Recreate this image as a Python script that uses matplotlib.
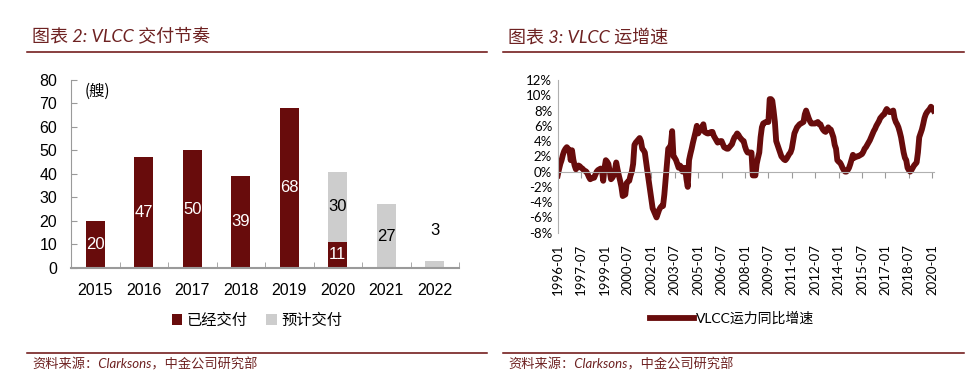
import matplotlib
matplotlib.use("Agg")
from matplotlib import pyplot as plt
from matplotlib.lines import Line2D

plt.rcParams['font.family'] = ['Liberation Sans', 'Noto Sans CJK SC', 'DejaVu Sans']

RED = '#680c0c'
TXT_RED = '#6e2222'
GRAY_BAR = '#cdcdcd'
AXIS_GRAY = '#9a9a9a'

# left chart: VLCC deliveries
years = ['2015', '2016', '2017', '2018', '2019', '2020', '2021', '2022']
delivered = [20, 47, 50, 39, 68, 11, 0, 0]
expected = [0, 0, 0, 0, 0, 30, 27, 3]

# right chart: VLCC fleet growth yoy (%), monthly from 1996-01
growth = [
    -0.5, 0.3, 1.0, 1.5, 2.2, 2.7, 3.0, 3.2, 3.0, 2.8, 1.5, 2.8,      # 1996
    1.6, 0.8, 0.3, 0.6, 0.8, 0.7, 0.5, 0.4, 0.2, 0.1, 0.0, -0.3,      # 1997
    -0.7, -1.0, -0.9, -0.8, -0.8, -0.4, 0.0, 0.2, 0.3, 0.4, 0.2, -1.2,  # 1998
    0.5, 1.5, 1.3, 1.0, 0.0, -1.0, -0.8, -0.5, 0.2, 1.2, 0.3, -0.5,   # 1999
    -1.2, -2.0, -3.2, -3.1, -3.0, -1.5, -1.3, -1.2, -0.5, 0.0, 1.0, 3.5,  # 2000
    3.8, 4.0, 4.2, 4.4, 4.0, 3.0, 2.8, 2.5, 1.2, 0.0, -1.2, -2.5,     # 2001
    -3.5, -4.8, -5.2, -5.6, -6.0, -5.5, -5.0, -4.7, -4.5, -4.5, -3.0, -1.0,  # 2002
    1.0, 3.0, 3.2, 3.5, 5.3, 2.0, 1.8, 1.5, 1.0, 0.5, 0.8, 0.6,       # 2003
    0.0, 0.2, 0.5, -1.0, -2.0, 1.5, 2.3, 3.0, 3.8, 4.5, 5.2, 6.0,     # 2004
    5.0, 5.3, 5.5, 5.8, 6.2, 5.2, 5.1, 5.0, 5.0, 5.1, 5.2, 5.2,       # 2005
    4.7, 4.4, 4.1, 3.8, 3.9, 4.0, 4.0, 3.6, 3.2, 3.1, 3.0, 3.0,       # 2006
    3.2, 3.4, 3.6, 4.1, 4.5, 4.7, 5.0, 4.8, 4.5, 4.3, 4.1, 4.0,       # 2007
    3.3, 2.8, 2.5, 2.5, 2.5, 2.5, -0.5, -0.5, -0.5, 1.0, 1.8, 2.5,    # 2008
    4.5, 5.8, 6.3, 6.4, 6.5, 6.5, 6.5, 9.5, 9.5, 9.3, 8.0, 6.5,       # 2009
    4.0, 3.5, 3.0, 2.5, 2.0, 1.8, 1.6, 1.5, 1.7, 2.0, 2.3, 2.5,       # 2010
    3.0, 4.0, 5.0, 5.4, 5.8, 6.0, 6.2, 6.3, 6.4, 6.5, 7.5, 8.0,       # 2011
    7.5, 7.0, 6.6, 6.3, 6.3, 6.3, 6.3, 6.4, 6.5, 6.2, 6.2, 5.8,       # 2012
    5.5, 5.3, 5.2, 5.5, 5.8, 5.6, 5.5, 5.0, 4.5, 3.5, 3.0, 1.5,       # 2013
    1.3, 1.2, 0.9, 0.5, 0.2, 0.0, 0.0, 0.2, 0.5, 1.0, 1.6, 2.2,       # 2014
    1.8, 1.9, 2.0, 2.0, 2.1, 2.2, 2.3, 2.6, 3.0, 3.2, 3.5, 3.8,       # 2015
    4.1, 4.5, 4.9, 5.3, 5.6, 6.0, 6.3, 6.6, 7.0, 7.2, 7.4, 7.5,       # 2016
    7.9, 8.2, 8.0, 7.8, 7.8, 7.9, 8.0, 7.0, 6.5, 6.2, 5.8, 5.2,       # 2017
    4.5, 3.5, 2.5, 1.8, 1.5, 0.5, 0.2, 0.0, 0.2, 0.5, 0.8, 1.0,       # 2018
    1.2, 2.5, 4.5, 5.0, 5.5, 6.2, 7.0, 7.5, 7.8, 8.0, 8.2, 8.5,       # 2019
    8.3, 8.0,                                                         # 2020
]
start_year = 1996

months = [f"{start_year + i // 12}-{i % 12 + 1:02d}" for i in range(len(growth))]
tick_idx = list(range(0, len(growth), 18))
tick_lbl = [months[i] for i in tick_idx]

fig = plt.figure(figsize=(9.72, 3.9), dpi=100)

# ---- headers / footers (latin in italic, CJK falls back)
cjk = ['Noto Sans CJK SC', 'DejaVu Sans']
head = ['Lato', 'Noto Sans CJK SC', 'DejaVu Sans']
fig.text(32 / 972, 1 - 37 / 390, '图表 2: VLCC 交付节奏', fontsize=13, style='italic',
         color=TXT_RED, va='center', family=head)
fig.text(508 / 972, 1 - 37 / 390, '图表 3: VLCC 运增速', fontsize=13, style='italic',
         color=TXT_RED, va='center', family=head)
fig.text(32 / 972, 1 - 364 / 390, '资料来源：Clarksons，中金公司研究部', fontsize=9.5,
         style='italic', color=TXT_RED, va='center', family=head)
fig.text(508 / 972, 1 - 364 / 390, '资料来源：Clarksons，中金公司研究部', fontsize=9.5,
         style='italic', color=TXT_RED, va='center', family=head)
for x0, x1 in [(27, 487), (503, 964)]:
    for yy in (51.5, 353):
        fig.add_artist(Line2D([x0 / 972, x1 / 972], [1 - yy / 390] * 2,
                              color=RED, lw=1.1))

# ---- left: bar chart
ax1 = fig.add_axes([71 / 972, 1 - 267.7 / 390, 388 / 972, 187.7 / 390])
x = list(range(len(years)))
b1 = ax1.bar(x, delivered, width=0.4, color=RED, label='已经交付')
b2 = ax1.bar(x, expected, width=0.4, bottom=delivered, color=GRAY_BAR, label='预计交付')
ax1.set_xlim(-0.5, len(years) - 0.5)
ax1.set_ylim(0, 80)
ax1.set_yticks(range(0, 81, 10))
ax1.set_xticks(x)
ax1.set_xticklabels(years)
ax1.set_xticks([i - 0.5 for i in range(len(years) + 1)], minor=True)
ax1.tick_params(axis='x', which='major', length=0, pad=11, labelsize=11.5)
ax1.tick_params(axis='x', which='minor', length=4, direction='in', color=AXIS_GRAY)
ax1.tick_params(axis='y', length=4, direction='in', color=AXIS_GRAY, labelsize=11.5, pad=10)
for s in ['top', 'right']:
    ax1.spines[s].set_visible(False)
for s in ['left', 'bottom']:
    ax1.spines[s].set_color(AXIS_GRAY)
ax1.spines['bottom'].set_linewidth(1.5)

for rect, v in zip(b1, delivered):
    if v > 0:
        ax1.text(rect.get_x() + rect.get_width() / 2, v / 2, str(v), ha='center',
                 va='center', color='white', fontsize=12)
for rect, d, v in zip(b2, delivered, expected):
    if v >= 10:
        ax1.text(rect.get_x() + rect.get_width() / 2, d + v / 2, str(v), ha='center',
                 va='center', color='black', fontsize=12)
    elif v > 0:
        ax1.annotate(str(v), (rect.get_x() + rect.get_width() / 2, d + v),
                     xytext=(0, 22), textcoords='offset points', ha='center',
                     va='center', color='black', fontsize=12)
ax1.text(0.035, 0.985, '(艘)', transform=ax1.transAxes, ha='left', va='top',
         fontsize=11, family=cjk)
ax1.legend(handles=[b1, b2], loc='center', bbox_to_anchor=(257 / 972, 1 - 320 / 390),
           bbox_transform=fig.transFigure, ncol=2, frameon=False, handlelength=0.7,
           handleheight=0.7, handletextpad=0.3, columnspacing=1.2,
           prop={'family': cjk, 'size': 11})

# ---- right: line chart
ax2 = fig.add_axes([557.7 / 972, 1 - 232.7 / 390, 376.5 / 972, 152.7 / 390])
ax2.plot(range(len(growth)), growth, color=RED, lw=4.2, solid_joinstyle='round',
         label='VLCC运力同比增速')
ax2.set_xlim(0, len(growth) - 0.5)
ax2.set_ylim(-8, 12)
ax2.set_yticks(range(-8, 13, 2))
ax2.set_yticklabels([f'{v}%' for v in range(-8, 13, 2)])
ax2.tick_params(axis='y', length=0, labelsize=9.5, pad=4)
ax2.spines['bottom'].set_position(('data', 0))
ax2.set_xticks(tick_idx)
ax2.tick_params(axis='x', length=4, direction='out', color=AXIS_GRAY, labelbottom=False)
for s in ['top', 'right']:
    ax2.spines[s].set_visible(False)
for s in ['left', 'bottom']:
    ax2.spines[s].set_color('#b0b0b0')
for lbl in ax2.get_yticklabels():
    lbl.set_family(['Lato', 'DejaVu Sans'])

sec = ax2.secondary_xaxis(0)
sec.set_xticks(tick_idx)
sec.set_xticklabels(tick_lbl, rotation=90, fontsize=9.5, family=['Lato', 'DejaVu Sans'])
sec.tick_params(length=0, pad=8)
sec.spines['bottom'].set_visible(False)

ax2.legend(loc='center', bbox_to_anchor=(732 / 972, 1 - 318 / 390),
           bbox_transform=fig.transFigure, frameon=False, handlelength=3.2,
           handletextpad=0.1, prop={'family': ['Lato', 'Noto Sans CJK SC'], 'size': 10})

fig.savefig('out.png', dpi=100)
